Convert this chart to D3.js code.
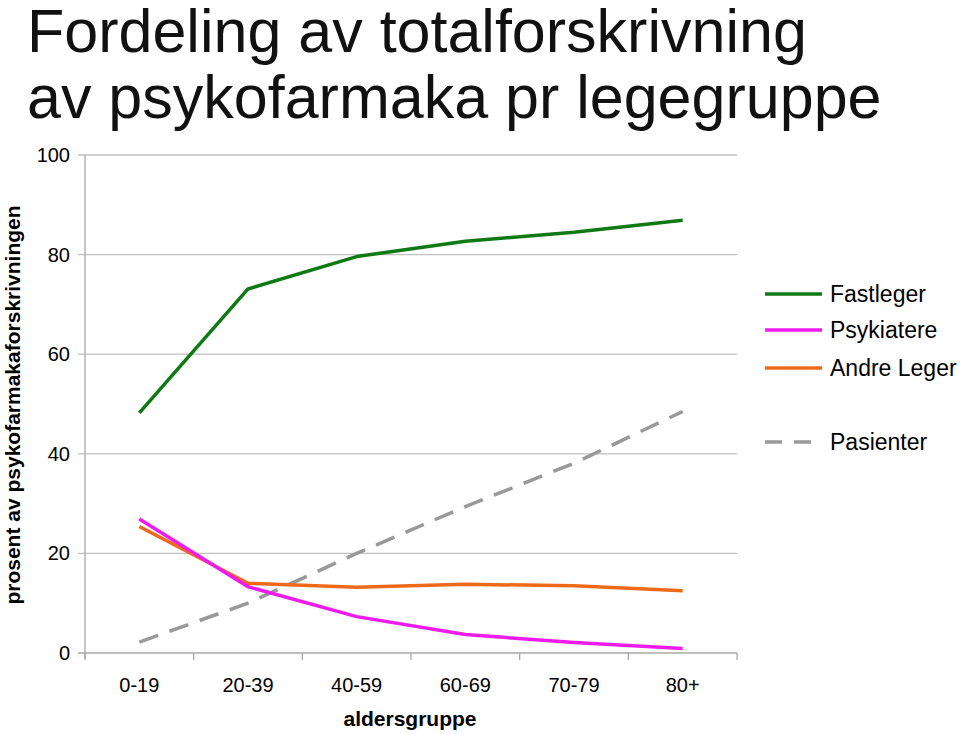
<!DOCTYPE html>
<meta charset="utf-8">
<style>
body { margin: 0; background: #fff; }
text { font-family: "Liberation Sans", Arial, sans-serif; fill: #000; }
.grid line { stroke: #c0c0c0; stroke-width: 1.3px; }
.series { fill: none; stroke-width: 3.5px; stroke-linejoin: round; }
</style>
<body>
<svg width="960" height="734"></svg>
<script src="https://cdnjs.cloudflare.com/ajax/libs/d3/7.8.5/d3.min.js"></script>
<script>

var groups = ["0-19", "20-39", "40-59", "60-69", "70-79", "80+"];
var fastleger  = [48.2, 73.1, 79.6, 82.7, 84.5, 86.9];
var psykiatere = [26.9, 13.3, 7.3, 3.7, 2.1, 0.9];
var andre      = [25.4, 14.0, 13.2, 13.8, 13.5, 12.5];
var pasienter  = [2.2, 10.0, 20.0, 29.4, 38.1, 48.5];
var yTicks = [0, 20, 40, 60, 80, 100];

var series = [
  {name: "Fastleger",    vals: fastleger,  color: "#0f7a14"},
  {name: "Psykiatere",   vals: psykiatere, color: "#ee1aee"},
  {name: "Andre Leger",  vals: andre,      color: "#ee6a1a"},
  {name: "Pasienter",    vals: pasienter,  color: "#999999", dash: "20,12"}
];

var svg = d3.select("svg");
var pL = 85, pR = 737, pT = 155, pB = 653;

var x = d3.scalePoint().domain(groups).range([pL, pR]).padding(0.5);
var xb = d3.scaleBand().domain(groups).range([pL, pR]);
var y = d3.scaleLinear().domain([0, 100]).range([pB, pT]);

// title
svg.append("text").attr("x", 27).attr("y", 52)
  .style("font-size", "61px").style("fill", "#111").text("Fordeling av totalforskrivning");
svg.append("text").attr("x", 27).attr("y", 118)
  .style("font-size", "61px").style("fill", "#111").text("av psykofarmaka pr legegruppe");

// gridlines + y labels
var grid = svg.append("g").attr("class", "grid");
grid.selectAll("line").data(yTicks.filter(d => d > 0)).enter().append("line")
  .attr("x1", pL - 7).attr("x2", pR)
  .attr("y1", d => y(d)).attr("y2", d => y(d));
svg.selectAll(".ylab").data(yTicks).enter().append("text")
  .attr("class", "ylab")
  .attr("x", 70).attr("y", d => y(d) + 7)
  .attr("text-anchor", "end").style("font-size", "20px")
  .text(d => d);

// axes lines
svg.append("line").attr("x1", pL).attr("x2", pL).attr("y1", pT).attr("y2", pB + 6)
  .attr("stroke", "#a8a8a8").attr("stroke-width", 1.3);
svg.append("line").attr("x1", pL - 7).attr("x2", pR).attr("y1", pB).attr("y2", pB)
  .attr("stroke", "#a8a8a8").attr("stroke-width", 1.3);
var xt = groups.map(g => xb(g)).concat([pR]);
svg.selectAll(".xtick").data(xt).enter().append("line")
  .attr("x1", d => d).attr("x2", d => d).attr("y1", pB).attr("y2", pB + 7)
  .attr("stroke", "#a8a8a8").attr("stroke-width", 1.3);

svg.selectAll(".xlab").data(groups).enter().append("text")
  .attr("x", d => x(d)).attr("y", 692)
  .attr("text-anchor", "middle").style("font-size", "20px")
  .text(d => d);

svg.append("text").attr("x", 410).attr("y", 726).attr("text-anchor", "middle")
  .style("font-size", "21px").style("font-weight", "bold").text("aldersgruppe");
svg.append("text").attr("transform", "translate(20,405) rotate(-90)").attr("text-anchor", "middle")
  .style("font-size", "21px").style("font-weight", "bold").text("prosent av psykofarmakaforskrivningen");

// lines
var line = d3.line().x((d, i) => x(groups[i])).y(d => y(d));
series.slice().reverse().forEach(function(s) {
  svg.append("path").attr("class", "series")
    .attr("d", line(s.vals))
    .attr("stroke", s.color)
    .attr("stroke-dasharray", s.dash || null);
});

// legend
var legY = [294, 330, 368, 442];
series.forEach(function(s, i) {
  svg.append("line").attr("x1", 765).attr("x2", 822).attr("y1", legY[i]).attr("y2", legY[i])
    .attr("stroke", s.color).attr("stroke-width", 3.5)
    .attr("stroke-dasharray", s.dash ? "17,12" : null);
  svg.append("text").attr("x", 830).attr("y", legY[i] + 8)
    .style("font-size", "23px").text(s.name);
});

</script>
</body>
